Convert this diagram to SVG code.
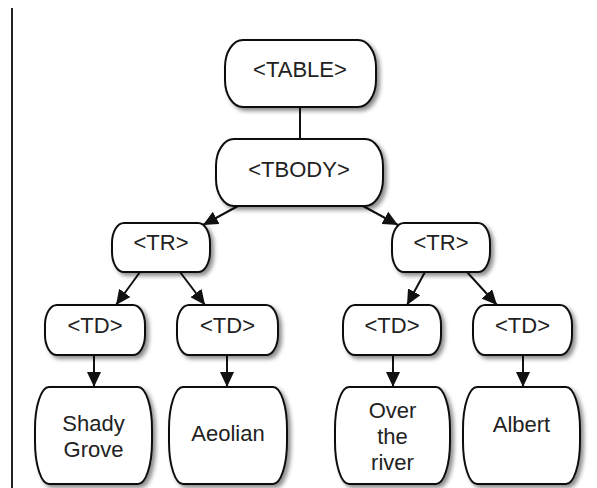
<svg xmlns="http://www.w3.org/2000/svg" width="597" height="488" viewBox="0 0 597 488">
<style>
.box{fill:#fff;stroke:#111;stroke-width:2;filter:url(#sh)}
.t{font-family:"Liberation Sans",Arial,sans-serif;font-size:22px;fill:#222;text-anchor:middle}
.c{stroke:#111;stroke-width:2;fill:none}
.a{marker-end:url(#ah)}
</style>
<defs>
<filter id="sh" x="-20%" y="-20%" width="150%" height="150%">
<feDropShadow dx="3" dy="3" stdDeviation="2" flood-color="#000" flood-opacity="0.45"/>
</filter>
<marker id="ah" markerUnits="userSpaceOnUse" markerWidth="16" markerHeight="14" refX="15" refY="7" orient="auto">
<path d="M0,0 L15,7 L0,14 z" fill="#111"/>
</marker>
</defs>
<rect x="0" y="0" width="597" height="488" fill="#fff"/>
<line x1="12" y1="8" x2="12" y2="488" stroke="#222" stroke-width="2"/>
<g id="connectors">
<line class="c" x1="300" y1="107" x2="300" y2="139"/>
<line class="c a" x1="238" y1="206" x2="203" y2="225"/>
<line class="c a" x1="363" y1="206" x2="398" y2="225"/>
<line class="c a" x1="140" y1="272" x2="116" y2="305"/>
<line class="c a" x1="180" y1="272" x2="205" y2="305"/>
<line class="c a" x1="425" y1="272" x2="407" y2="305"/>
<line class="c a" x1="467" y1="272" x2="497" y2="305"/>
<line class="c a" x1="94" y1="355" x2="94" y2="387"/>
<line class="c a" x1="227" y1="355" x2="227" y2="387"/>
<line class="c a" x1="393" y1="355" x2="393" y2="387"/>
<line class="c a" x1="523" y1="355" x2="523" y2="387"/>
</g>
<g id="table"><rect class="box" x="225" y="40" width="151" height="67" rx="18" ry="27"/><text class="t" x="300" y="77">&lt;TABLE&gt;</text></g>
<g id="tbody"><rect class="box" x="216" y="139" width="167" height="67" rx="18" ry="27"/><text class="t" x="299" y="177">&lt;TBODY&gt;</text></g>
<g id="tr1"><rect class="box" x="112" y="223" width="98" height="49" rx="12" ry="20"/><text class="t" x="161" y="250">&lt;TR&gt;</text></g>
<g id="tr2"><rect class="box" x="392" y="223" width="98" height="49" rx="12" ry="20"/><text class="t" x="441" y="250">&lt;TR&gt;</text></g>
<g id="td1"><rect class="box" x="45" y="305" width="100" height="50" rx="12" ry="20"/><text class="t" x="95" y="333">&lt;TD&gt;</text></g>
<g id="td2"><rect class="box" x="177" y="305" width="101" height="50" rx="12" ry="20"/><text class="t" x="227.5" y="333">&lt;TD&gt;</text></g>
<g id="td3"><rect class="box" x="343" y="305" width="98" height="50" rx="12" ry="20"/><text class="t" x="392" y="333">&lt;TD&gt;</text></g>
<g id="td4"><rect class="box" x="473" y="305" width="99" height="50" rx="12" ry="20"/><text class="t" x="522.5" y="333">&lt;TD&gt;</text></g>
<g id="leaf1"><rect class="box" x="35" y="387" width="117" height="97" rx="14" ry="42"/><text class="t" x="93.5" y="431">Shady</text><text class="t" x="93.5" y="457">Grove</text></g>
<g id="leaf2"><rect class="box" x="169" y="387" width="118" height="97" rx="14" ry="42"/><text class="t" x="228" y="441">Aeolian</text></g>
<g id="leaf3"><rect class="box" x="335" y="387" width="115" height="97" rx="14" ry="42"/><text class="t" x="392.5" y="418">Over</text><text class="t" x="392.5" y="444">the</text><text class="t" x="392.5" y="470">river</text></g>
<g id="leaf4"><rect class="box" x="463" y="387" width="117" height="97" rx="14" ry="42"/><text class="t" x="521.5" y="432">Albert</text></g>
</svg>
